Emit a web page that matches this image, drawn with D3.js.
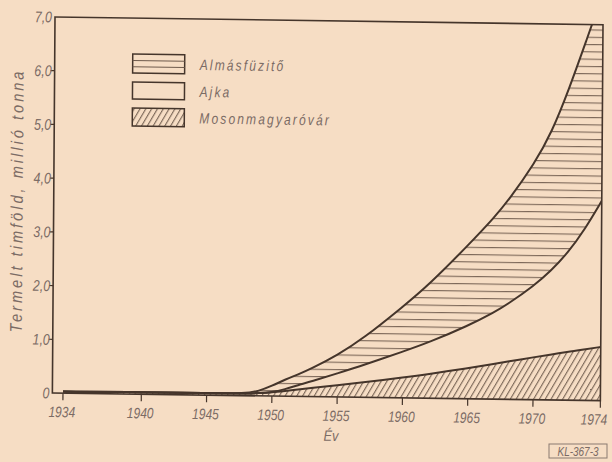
<!DOCTYPE html>
<html><head><meta charset="utf-8">
<script src="https://cdn.jsdelivr.net/npm/d3@7/dist/d3.min.js"></script>
<style>
html,body{margin:0;padding:0;background:#f6ddc4;}
svg{display:block;}
text{font-family:"Liberation Sans","DejaVu Sans",sans-serif;font-style:italic;fill:#7b6b64;}
</style></head><body>
<svg id="chart" width="612" height="462"></svg>
<script>
// ---- data ----
const years = [1934,1940,1945,1948,1949,1950,1951,1952,1953,1955,1957,1960,1962,1965,1967,1968,1970,1971,1972,1973,1974];
const mosonmagyarovar = [0.03,0.04,0.04,0.04,0.05,0.07,0.10,0.13,0.16,0.22,0.28,0.38,0.45,0.57,0.66,0.70,0.79,0.84,0.90,0.95,1.00];
const ajka            = [0,0,0,0,0,0,0.03,0.08,0.12,0.22,0.32,0.48,0.59,0.79,0.96,1.07,1.33,1.56,1.84,2.23,2.72];
const almasfuzito     = [0,0,0,0,0.04,0.12,0.18,0.20,0.24,0.34,0.50,0.84,1.08,1.51,1.78,1.93,2.28,2.58,3.04,3.50,3.88];
const seriesKeys   = ["mosonmagyarovar","ajka","almasfuzito"];
const legendNames  = ["Almásfüzitő","Ajka","Mosonmagyaróvár"];
const xTickValues  = [1934,1940,1945,1950,1955,1960,1965,1970,1974];
const yTickValues  = [0,1,2,3,4,5,6,7];
const yTickLabels  = ["0","1,0","2,0","3,0","4,0","5,0","6,0","7,0"];
const xTitle = "Év";
const yTitle = "Termelt timföld, millió tonna";
const stamp  = "KL-367-3";

// ---- layout ----
const L = 55, T = 17, R = 603, B = 393;
const ink = "#45352b", hatch = "#6e5a4c";

const rows = years.map((y,i)=>({year:y, mosonmagyarovar:mosonmagyarovar[i], ajka:ajka[i], almasfuzito:almasfuzito[i]}));
const stacked = d3.stack().keys(seriesKeys)(rows);

const x = d3.scaleLinear().domain([1934,1970,1974]).range([65.6,535.6,603]);
const y = d3.scaleLinear().domain([0,7]).range([B,T]);

const svg = d3.select("#chart");
const defs = svg.append("defs");
const ph = defs.append("pattern").attr("id","hlines").attr("patternUnits","userSpaceOnUse")
  .attr("width",10).attr("height",7.3);
ph.append("line").attr("x1",0).attr("x2",10).attr("y1",0.6).attr("y2",0.6)
  .attr("stroke",hatch).attr("stroke-width",1);
const pd = defs.append("pattern").attr("id","dlines").attr("patternUnits","userSpaceOnUse")
  .attr("width",5).attr("height",10).attr("patternTransform","rotate(30)");
pd.append("line").attr("x1",0.6).attr("x2",0.6).attr("y1",0).attr("y2",10)
  .attr("stroke",hatch).attr("stroke-width",1);
defs.append("clipPath").attr("id","clip").append("rect")
  .attr("x",L).attr("y",T).attr("width",R-L).attr("height",B-T);

// narrow, slanted lettering helper
function label(parent, tx, ty, str, o){
  return parent.append("text")
    .attr("transform",`translate(${tx},${ty}) rotate(${o.rot||0}) scale(${o.sx||0.8},1)`)
    .attr("text-anchor",o.anchor||"start").attr("font-size",o.size)
    .attr("letter-spacing",o.ls||0).text(str);
}

// slight scan skew
const g = svg.append("g").attr("transform","matrix(1,0.014,-0.007,1,0.12,-0.77)");

const area = d3.area().x(d=>x(d.data.year)).y0(d=>y(d[0])).y1(d=>y(d[1])).curve(d3.curveBasis);
const line = d3.line().x(d=>x(d.data.year)).y(d=>y(d[1])).curve(d3.curveBasis);
const fills = {mosonmagyarovar:"url(#dlines)", ajka:"none", almasfuzito:"url(#hlines)"};

const plot = g.append("g").attr("clip-path","url(#clip)");
plot.selectAll("path.area").data(stacked).join("path").attr("class","area")
  .attr("d",area).attr("fill",d=>fills[d.key]).attr("stroke","none");
plot.selectAll("path.line").data(stacked).join("path").attr("class","line")
  .attr("d",line).attr("fill","none").attr("stroke",ink).attr("stroke-width",2);

// frame
g.append("rect").attr("x",L).attr("y",T).attr("width",R-L).attr("height",B-T)
  .attr("fill","none").attr("stroke",ink).attr("stroke-width",1.6);

// y axis ticks/labels
yTickValues.forEach((v,i)=>{
  if(v>0 && v<7) g.append("line").attr("x1",L-4).attr("x2",L).attr("y1",y(v)).attr("y2",y(v))
    .attr("stroke",ink).attr("stroke-width",1.2);
  label(g, L-3, y(v)+5.5, yTickLabels[i], {size:15.5, anchor:"end", sx:0.8});
});
// x axis ticks/labels
xTickValues.forEach((v,i)=>{
  g.append("line").attr("x1",x(v)).attr("x2",x(v)).attr("y1",B).attr("y2",B+7)
    .attr("stroke",ink).attr("stroke-width",1.2);
  const last = i===xTickValues.length-1;
  label(g, last?610:x(v)-1, B+24, v, {size:15, anchor:last?"end":"middle", sx:0.8});
});
label(g, x(1955)-6, B+44, xTitle, {size:15, anchor:"middle", sx:0.85});
label(g, 24, (T+B)/2-4, yTitle, {size:17, anchor:"middle", sx:0.85, ls:3.6, rot:-90});

// legend
const lg = g.append("g");
const boxes = [{y:53,h:19,fill:"none",lines:true},{y:81,h:17,fill:"none",lines:false},{y:107,h:18,fill:"url(#dlines)",lines:false}];
boxes.forEach((b,i)=>{
  lg.append("rect").attr("x",133).attr("y",b.y).attr("width",52).attr("height",b.h)
    .attr("fill",b.fill).attr("stroke",ink).attr("stroke-width",1.5);
  if(b.lines){
    [1,2].forEach(k=>lg.append("line").attr("x1",133).attr("x2",185)
      .attr("y1",b.y+k*b.h/3).attr("y2",b.y+k*b.h/3).attr("stroke",hatch).attr("stroke-width",1));
  }
  label(lg, 200, b.y+b.h/2+5.5, legendNames[i], {size:15, sx:0.8, ls:2.7});
});

// stamp
svg.append("rect").attr("x",549).attr("y",444).attr("width",58).attr("height",14)
  .attr("fill","none").attr("stroke","#8a7a70").attr("stroke-width",1);
label(svg, 578, 455.5, stamp, {size:12.5, anchor:"middle", sx:0.8});
</script></body></html>
